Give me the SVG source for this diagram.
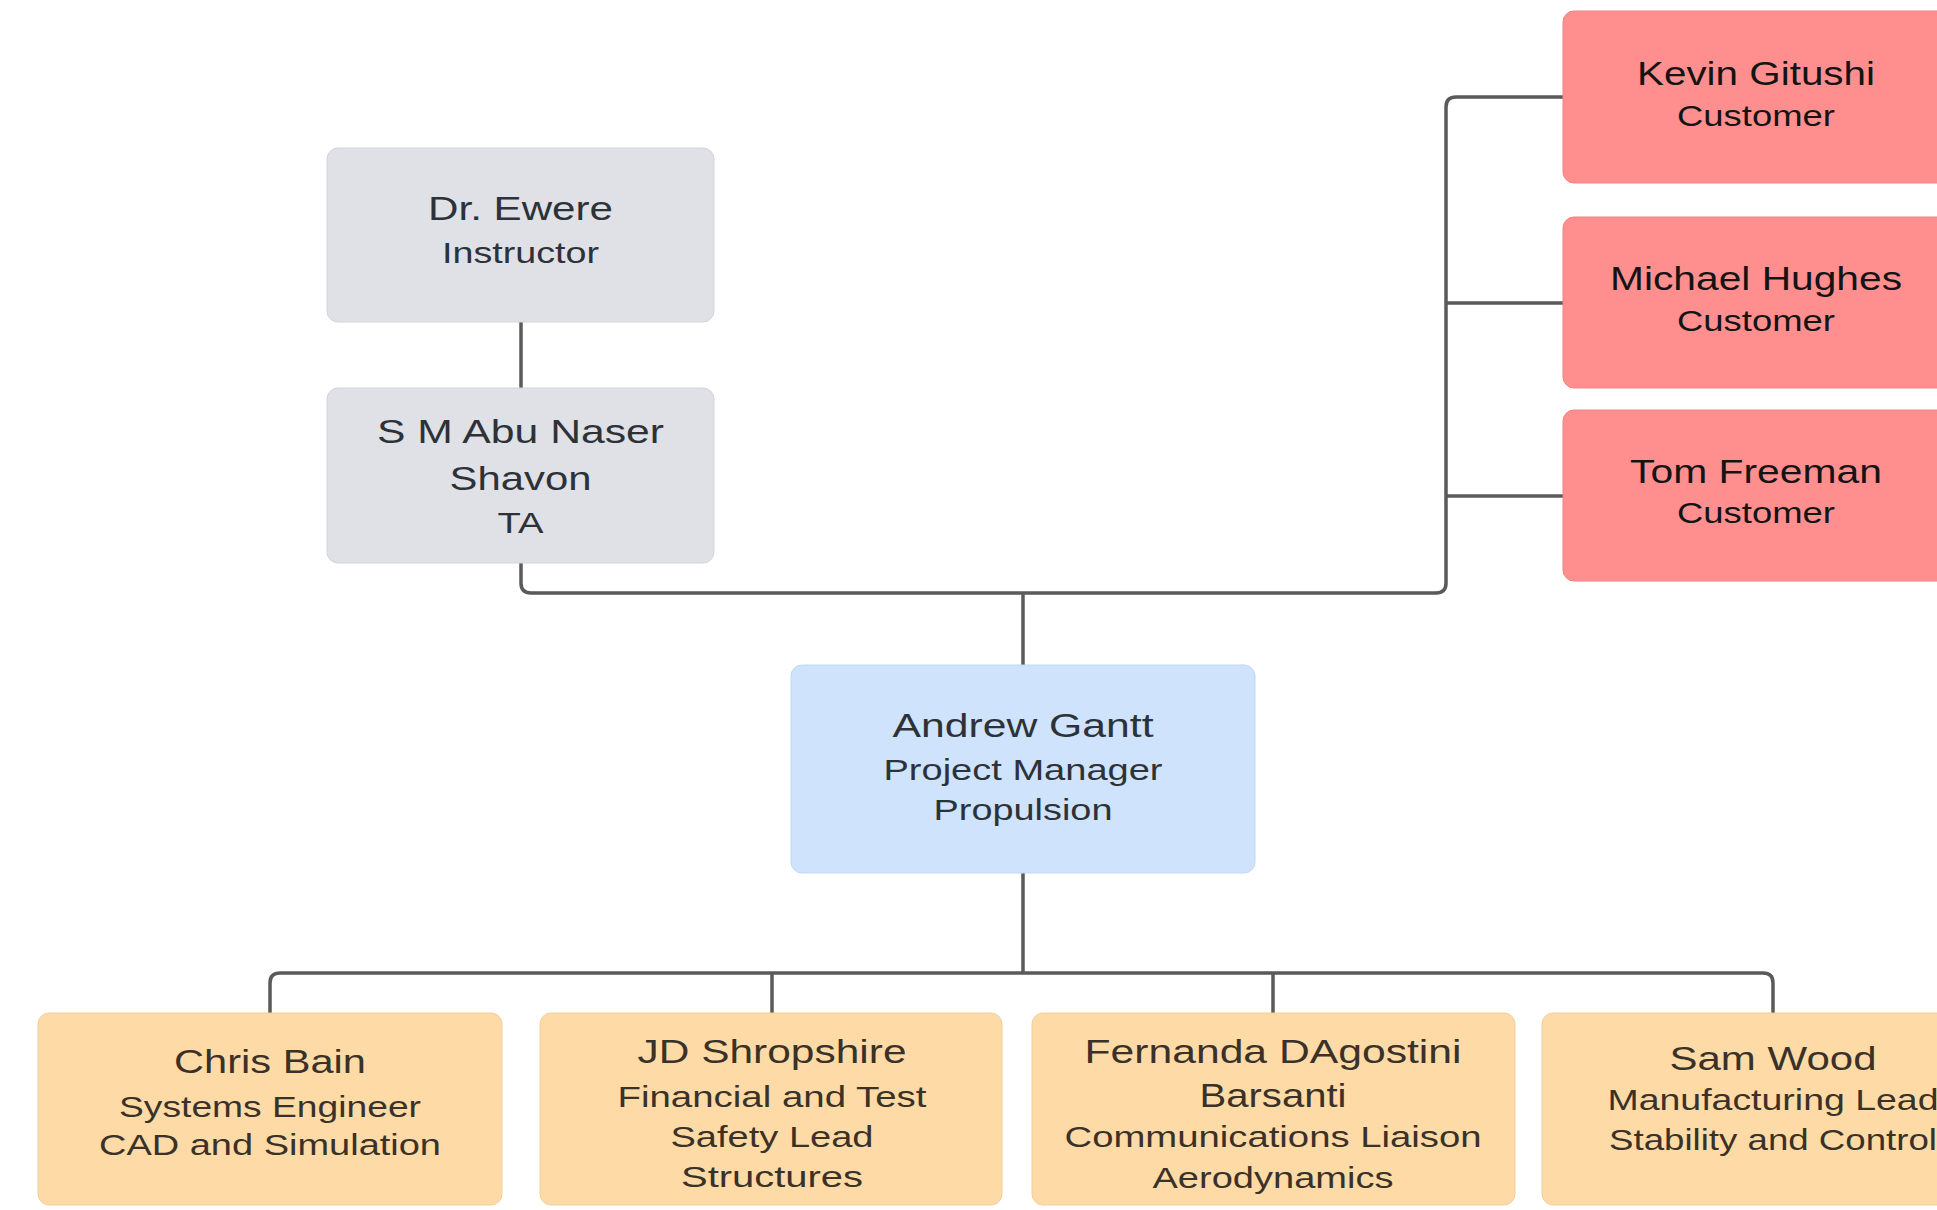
<svg xmlns="http://www.w3.org/2000/svg" width="1937" height="1210" viewBox="0 0 1937 1210">
<style>
.bg{fill:#ffffff}
.gray{fill:#DFE1E6;stroke:#d2d4d8;stroke-width:1}
.red{fill:#FF8F8F;stroke:#f08484;stroke-width:1}
.blue{fill:#CFE3FC;stroke:#c3d7f0;stroke-width:1}
.orange{fill:#FEDBA6;stroke:#f0cf9c;stroke-width:1}
text{font-family:"Liberation Sans",Arial,sans-serif;text-anchor:middle}
.n{font-size:33px}
.r{font-size:30px}
.dk{fill:#2d3238}
.bk{fill:#141414}
.br{fill:#3a3128}
.conn{fill:none;stroke:#5a5a5a;stroke-width:3.5;stroke-linejoin:round}
</style>
<rect class="bg" x="0" y="0" width="1937" height="1210"/>
<g id="connectors">
<path class="conn" d="M521 322 V388"/>
<path class="conn" d="M521 563 V583 Q521 593 531 593 H1436 Q1446 593 1446 583 V107 Q1446 97 1456 97 H1563"/>
<path class="conn" d="M1446 303 H1563"/>
<path class="conn" d="M1446 496 H1563"/>
<path class="conn" d="M1023 593 V665"/>
<path class="conn" d="M1023 873 V973"/>
<path class="conn" d="M270 1013 V983 Q270 973 280 973 H1763 Q1773 973 1773 983 V1013"/>
<path class="conn" d="M772 973 V1013"/>
<path class="conn" d="M1273 973 V1013"/>
</g>
<g id="node-ewere">
<rect class="gray" x="327" y="148" width="387" height="174" rx="11"/>
<text class="n dk" x="520.5" y="220" textLength="185" lengthAdjust="spacingAndGlyphs">Dr. Ewere</text>
<text class="r dk" x="520.5" y="263" textLength="157" lengthAdjust="spacingAndGlyphs">Instructor</text>
</g>
<g id="node-shavon">
<rect class="gray" x="327" y="388" width="387" height="175" rx="11"/>
<text class="n dk" x="520.5" y="443" textLength="287" lengthAdjust="spacingAndGlyphs">S M Abu Naser</text>
<text class="n dk" x="520.5" y="490" textLength="142" lengthAdjust="spacingAndGlyphs">Shavon</text>
<text class="r dk" x="520.5" y="533" textLength="46" lengthAdjust="spacingAndGlyphs">TA</text>
</g>
<g id="node-kevin">
<rect class="red" x="1563" y="11" width="387" height="172" rx="11"/>
<text class="n bk" x="1756" y="85" textLength="238" lengthAdjust="spacingAndGlyphs">Kevin Gitushi</text>
<text class="r bk" x="1756" y="126" textLength="158" lengthAdjust="spacingAndGlyphs">Customer</text>
</g>
<g id="node-michael">
<rect class="red" x="1563" y="217" width="387" height="171" rx="11"/>
<text class="n bk" x="1756" y="290" textLength="292" lengthAdjust="spacingAndGlyphs">Michael Hughes</text>
<text class="r bk" x="1756" y="331" textLength="158" lengthAdjust="spacingAndGlyphs">Customer</text>
</g>
<g id="node-tom">
<rect class="red" x="1563" y="410" width="387" height="171" rx="11"/>
<text class="n bk" x="1756" y="483" textLength="252" lengthAdjust="spacingAndGlyphs">Tom Freeman</text>
<text class="r bk" x="1756" y="523" textLength="158" lengthAdjust="spacingAndGlyphs">Customer</text>
</g>
<g id="node-andrew">
<rect class="blue" x="791" y="665" width="464" height="208" rx="11"/>
<text class="n dk" x="1023" y="737" textLength="261" lengthAdjust="spacingAndGlyphs">Andrew Gantt</text>
<text class="r dk" x="1023" y="780" textLength="279" lengthAdjust="spacingAndGlyphs">Project Manager</text>
<text class="r dk" x="1023" y="820" textLength="179" lengthAdjust="spacingAndGlyphs">Propulsion</text>
</g>
<g id="node-chris">
<rect class="orange" x="38" y="1013" width="464" height="192" rx="11"/>
<text class="n br" x="270" y="1073" textLength="192" lengthAdjust="spacingAndGlyphs">Chris Bain</text>
<text class="r br" x="270" y="1117" textLength="302" lengthAdjust="spacingAndGlyphs">Systems Engineer</text>
<text class="r br" x="270" y="1155" textLength="342" lengthAdjust="spacingAndGlyphs">CAD and Simulation</text>
</g>
<g id="node-jd">
<rect class="orange" x="540" y="1013" width="462" height="192" rx="11"/>
<text class="n br" x="772" y="1063" textLength="269" lengthAdjust="spacingAndGlyphs">JD Shropshire</text>
<text class="r br" x="772" y="1107" textLength="309" lengthAdjust="spacingAndGlyphs">Financial and Test</text>
<text class="r br" x="772" y="1147" textLength="203" lengthAdjust="spacingAndGlyphs">Safety Lead</text>
<text class="r br" x="772" y="1187" textLength="182" lengthAdjust="spacingAndGlyphs">Structures</text>
</g>
<g id="node-fernanda">
<rect class="orange" x="1032" y="1013" width="483" height="192" rx="11"/>
<text class="n br" x="1273" y="1063" textLength="377" lengthAdjust="spacingAndGlyphs">Fernanda DAgostini</text>
<text class="n br" x="1273" y="1107" textLength="147" lengthAdjust="spacingAndGlyphs">Barsanti</text>
<text class="r br" x="1273" y="1147" textLength="417" lengthAdjust="spacingAndGlyphs">Communications Liaison</text>
<text class="r br" x="1273" y="1188" textLength="241" lengthAdjust="spacingAndGlyphs">Aerodynamics</text>
</g>
<g id="node-sam">
<rect class="orange" x="1542" y="1013" width="464" height="192" rx="11"/>
<text class="n br" x="1773" y="1070" textLength="207" lengthAdjust="spacingAndGlyphs">Sam Wood</text>
<text class="r br" x="1773" y="1110" textLength="331" lengthAdjust="spacingAndGlyphs">Manufacturing Lead</text>
<text class="r br" x="1773" y="1150" textLength="328" lengthAdjust="spacingAndGlyphs">Stability and Control</text>
</g>
</svg>
